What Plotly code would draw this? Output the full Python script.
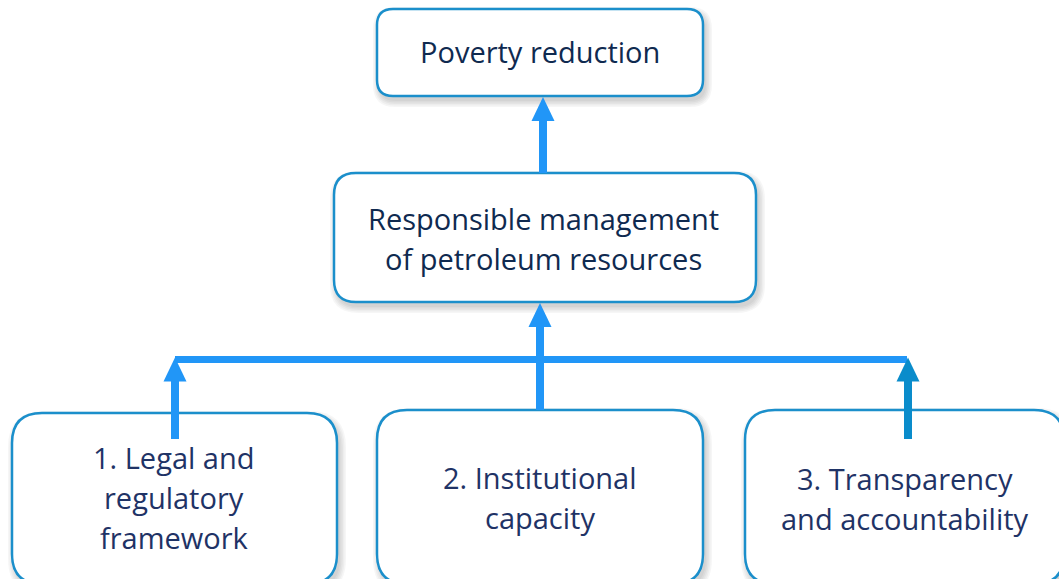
import plotly.graph_objects as go

# ---- content ----
box_labels = [
    ["Poverty reduction"],
    ["Responsible management", "of petroleum resources"],
    ["1. Legal and", "regulatory", "framework"],
    ["2. Institutional", "capacity"],
    ["3. Transparency", "and accountability"],
]

# ---- geometry (pixel space, y downward) ----
box_x0 = [377, 334, 12, 377, 745]
box_x1 = [703, 756, 337, 703, 1064]
box_y0 = [9, 173, 413, 410, 410]
box_y1 = [96, 302, 584, 584, 584]
box_r = [16, 22, 30, 30, 30]
text_y = [51, 238, 497, 497, 498]
text_x = [540, 543, 174, 540, 905]
LINE_GAP = 40

W, H = 1059, 579
BORDER = "#1B8FCB"
ARROW = "#2196F7"
ARROW_DARK = "#0A8CCB"
TXT_TOP = "#0F2A50"
TXT_BOT = "#1F3366"
FONT = "Open Sans"
FSIZE = 29


def rrect(x0, y0, x1, y1, r):
    return (f"M {x0+r},{y0} L {x1-r},{y0} Q {x1},{y0} {x1},{y0+r} "
            f"L {x1},{y1-r} Q {x1},{y1} {x1-r},{y1} L {x0+r},{y1} "
            f"Q {x0},{y1} {x0},{y1-r} L {x0},{y0+r} Q {x0},{y0} {x0+r},{y0} Z")


shapes = []
# soft shadows
for i in range(len(box_labels)):
    for k in range(5):
        g = 1.5 * k
        shapes.append(dict(type="path",
                           path=rrect(box_x0[i] + 2 - g, box_y0[i] + 4 - g,
                                      box_x1[i] + 3 + g, box_y1[i] + 5 + g,
                                      box_r[i] + g),
                           fillcolor="rgba(0,0,0,0.035)", line=dict(width=0),
                           layer="below"))
# boxes
for i in range(len(box_labels)):
    shapes.append(dict(type="path",
                       path=rrect(box_x0[i], box_y0[i], box_x1[i], box_y1[i], box_r[i]),
                       fillcolor="white", line=dict(color=BORDER, width=2.5),
                       layer="below"))


def arrow(x, y_tail, y_tip, color, shaft_w=8, head_w=23, head_h=24):
    shapes.append(dict(type="line", x0=x, x1=x, y0=y_tail, y1=y_tip + head_h - 1,
                       line=dict(color=color, width=shaft_w)))
    shapes.append(dict(type="path",
                       path=f"M {x},{y_tip} L {x+head_w/2},{y_tip+head_h} L {x-head_w/2},{y_tip+head_h} Z",
                       fillcolor=color, line=dict(width=0)))


bar_y = 359.5
bar_x0, bar_x1 = 175, 907
# horizontal connector
shapes.append(dict(type="line", x0=bar_x0, x1=bar_x1, y0=bar_y, y1=bar_y,
                   line=dict(color=ARROW, width=7)))
# arrows
arrow(543, box_y0[1], box_y1[0] + 1, ARROW)
arrow(540, box_y0[3], box_y1[1] + 1, ARROW)
arrow(175, 439, bar_y - 2, ARROW)
arrow(908, 439, bar_y - 2, ARROW_DARK)

fig = go.Figure()
for i, lines in enumerate(box_labels):
    n = len(lines)
    for j, line in enumerate(lines):
        y = text_y[i] + (j - (n - 1) / 2) * LINE_GAP
        fig.add_annotation(x=text_x[i], y=y, text=line, showarrow=False,
                           xanchor="center", yanchor="middle", align="center",
                           font=dict(family=FONT, size=FSIZE,
                                     color=TXT_TOP if i < 2 else TXT_BOT))

fig.update_layout(
    width=W, height=H, margin=dict(l=0, r=0, t=0, b=0),
    paper_bgcolor="white", plot_bgcolor="white",
    shapes=shapes, showlegend=False,
    xaxis=dict(range=[0, W], visible=False, fixedrange=True),
    yaxis=dict(range=[H, 0], visible=False, fixedrange=True),
)
fig.write_html("out.html", config={"displayModeBar": False},
               post_script="document.body.style.margin='0';document.body.style.overflow='hidden';")
